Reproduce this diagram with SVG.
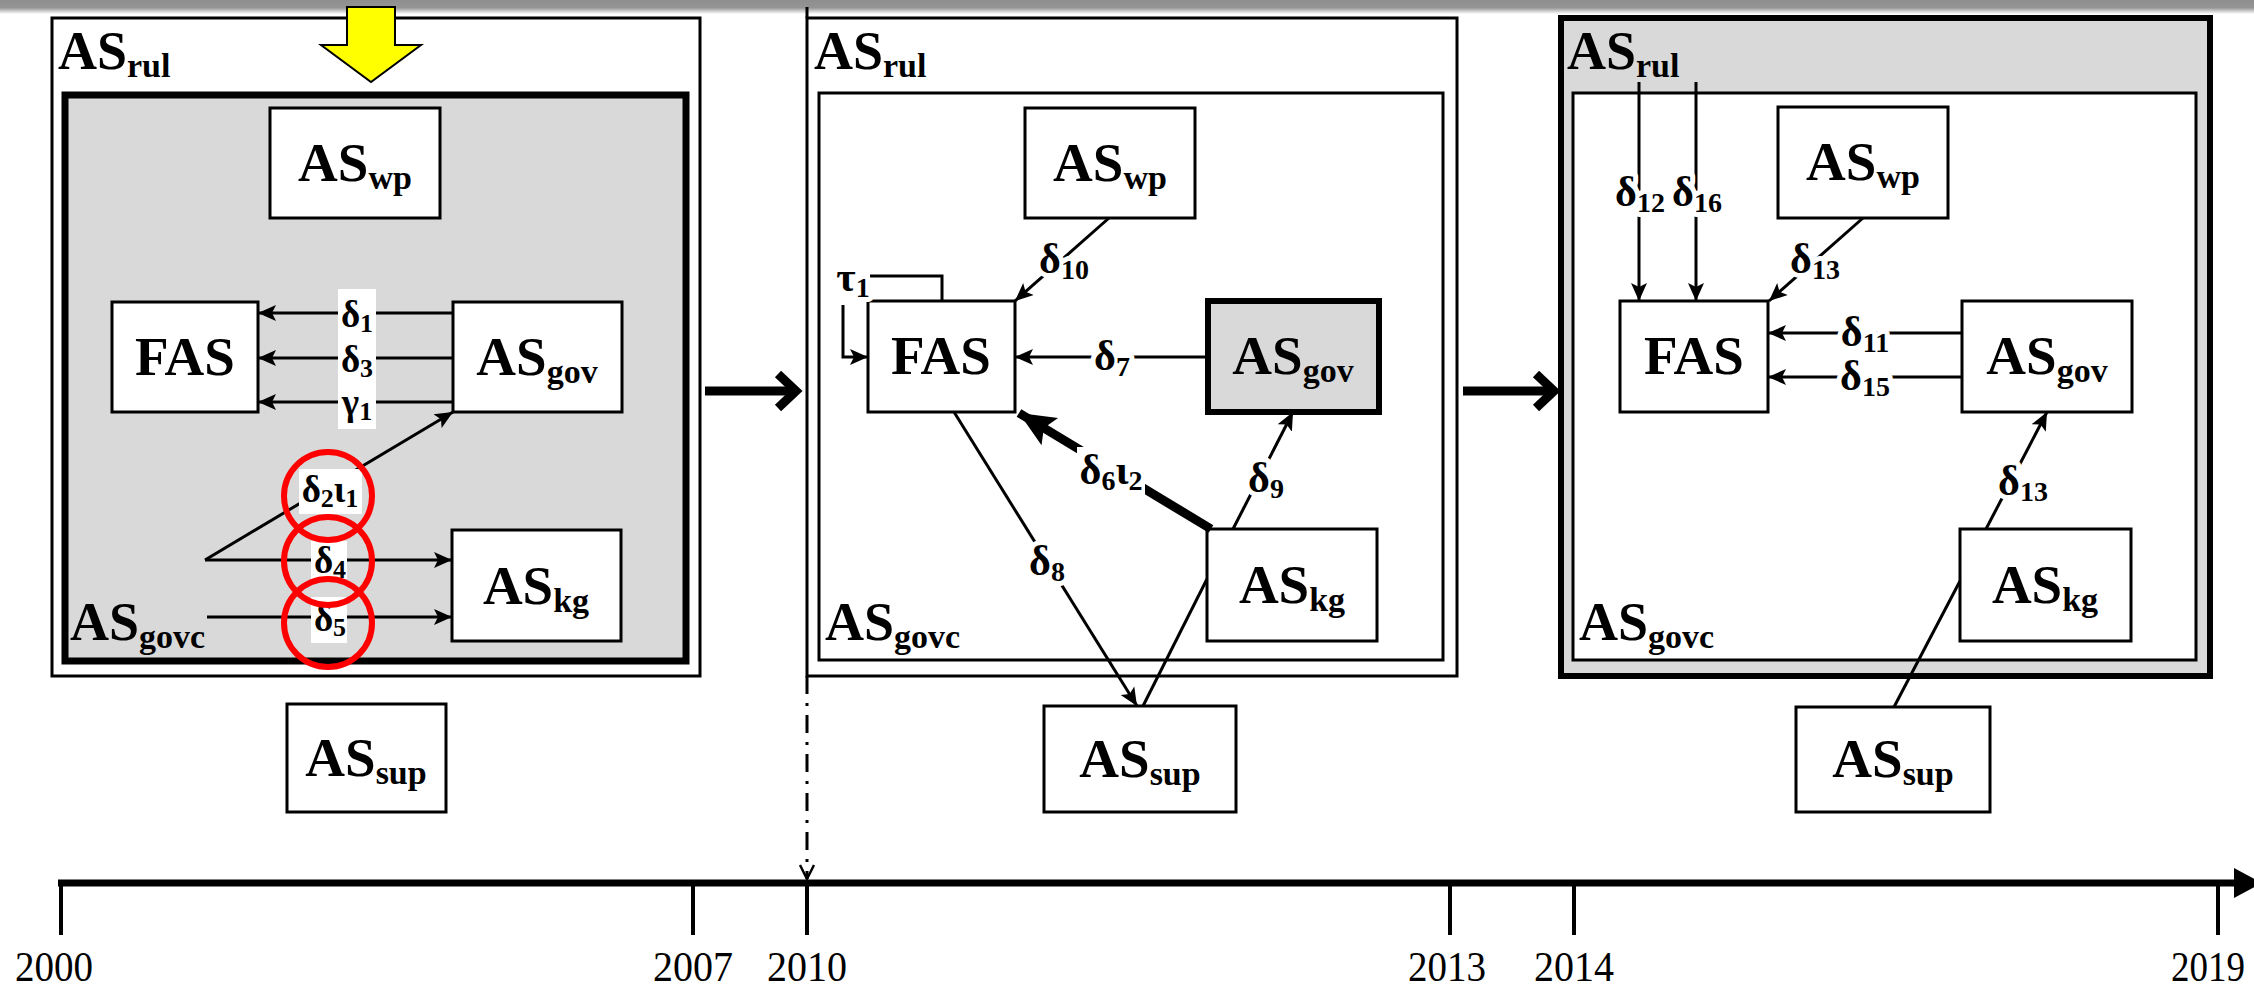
<svg xmlns="http://www.w3.org/2000/svg" width="2254" height="986" viewBox="0 0 2254 986">
<defs>
<linearGradient id="topfade" x1="0" y1="0" x2="0" y2="1">
<stop offset="0" stop-color="#8e8e8e"/><stop offset="0.55" stop-color="#949494"/><stop offset="1" stop-color="#ffffff"/>
</linearGradient>
<marker id="ah" markerUnits="userSpaceOnUse" markerWidth="20" markerHeight="18" refX="18" refY="9" orient="auto"><path d="M0,1 L18,9 L0,17 L4,9 z" fill="#000"/></marker>
<marker id="ahb" markerUnits="userSpaceOnUse" markerWidth="40" markerHeight="36" refX="36" refY="18" orient="auto"><path d="M0,2 L36,18 L0,34 L7,18 z" fill="#000"/></marker>
<style>
.bg{fill:#fff}
.box{fill:#fff;stroke:#000;stroke-width:3}
.outer{fill:#fff;stroke:#000;stroke-width:3}
.grayk{fill:#d9d9d9;stroke:#000;stroke-width:7}
.n{font-family:"Liberation Serif","Times New Roman",serif;font-weight:bold;font-size:55px;text-anchor:middle;fill:#000}
.nl{font-family:"Liberation Serif","Times New Roman",serif;font-weight:bold;font-size:54px;fill:#000}
.s{font-size:34px}
.ln{stroke:#000;stroke-width:3;fill:none}
.arr{marker-end:url(#ah)}
.d{font-family:"Liberation Serif","Times New Roman",serif;font-weight:bold;font-size:42px;text-anchor:middle;fill:#000}
.halo .d{fill:#fff;stroke:#fff;stroke-width:10;stroke-linejoin:round}
.d1{font-family:"Liberation Serif","Times New Roman",serif;font-weight:bold;font-size:37px;text-anchor:middle;fill:#000}
.ds{font-size:28px}
.ds1{font-size:26px}
.big{stroke:#000;stroke-width:9;fill:none}
.ring{fill:none;stroke:#ff0000;stroke-width:6}
.yr{font-family:"Liberation Serif","Times New Roman",serif;font-size:43px;text-anchor:middle;fill:#000}
</style>
</defs>
<rect x="0" y="0" width="2254" height="986" fill="#fff"/>
<rect x="0" y="0" width="2254" height="14" fill="url(#topfade)"/>

<!-- Panel 1 -->
<g id="panel1">
<rect class="outer" x="52" y="18" width="648" height="658"/>
<text class="nl" x="58" y="69">AS<tspan class="s" dy="8">rul</tspan></text>
<rect class="grayk" x="65" y="95" width="621" height="566"/>
<text class="nl" x="70" y="640">AS<tspan class="s" dy="8">govc</tspan></text>
<polygon points="347,7 395,7 395,45 421,45 371,82 321,45 347,45" fill="#ffff00" stroke="#000" stroke-width="2"/>
</g>
<g id="p1-ASwp"><rect class="box" x="270" y="108" width="170" height="110"/><text class="n" x="355" y="181">AS<tspan class="s" dy="8">wp</tspan></text></g>
<g id="p1-FAS"><rect class="box" x="112" y="302" width="146" height="110"/><text class="n" x="185" y="375">FAS</text></g>
<g id="p1-ASgov"><rect class="box" x="453" y="302" width="169" height="110"/><text class="n" x="537" y="375">AS<tspan class="s" dy="8">gov</tspan></text></g>
<g id="p1-ASkg"><rect class="box" x="452" y="530" width="169" height="111"/><text class="n" x="536" y="604">AS<tspan class="s" dy="8">kg</tspan></text></g>
<g id="p1-ASsup"><rect class="box" x="287" y="704" width="159" height="108"/><text class="n" x="366" y="776">AS<tspan class="s" dy="8">sup</tspan></text></g>

<!-- Panel 2 -->
<g id="panel2">
<line x1="807" y1="7" x2="807" y2="18" stroke="#000" stroke-width="3"/>
<rect class="outer" x="807" y="18" width="650" height="658"/>
<text class="nl" x="814" y="69">AS<tspan class="s" dy="8">rul</tspan></text>
<rect class="box" x="819" y="93" width="624" height="567"/>
<text class="nl" x="825" y="640">AS<tspan class="s" dy="8">govc</tspan></text>
</g>
<g id="p2-ASwp"><rect class="box" x="1025" y="108" width="170" height="110"/><text class="n" x="1110" y="181">AS<tspan class="s" dy="8">wp</tspan></text></g>
<g id="p2-FAS"><rect class="box" x="868" y="301" width="147" height="111"/><text class="n" x="941" y="374">FAS</text></g>
<g id="p2-ASgov"><rect x="1208" y="301" width="171" height="111" fill="#d9d9d9" stroke="#000" stroke-width="6"/><text class="n" x="1293" y="374">AS<tspan class="s" dy="8">gov</tspan></text></g>
<g id="p2-ASkg"><rect class="box" x="1207" y="529" width="170" height="112"/><text class="n" x="1292" y="603">AS<tspan class="s" dy="8">kg</tspan></text></g>
<g id="p2-ASsup"><rect class="box" x="1044" y="706" width="192" height="106"/><text class="n" x="1140" y="777">AS<tspan class="s" dy="8">sup</tspan></text></g>

<!-- Panel 3 -->
<g id="panel3">
<rect x="1561" y="18" width="649" height="658" fill="#d9d9d9" stroke="#000" stroke-width="6"/>
<text class="nl" x="1567" y="69">AS<tspan class="s" dy="8">rul</tspan></text>
<rect class="box" x="1573" y="93" width="623" height="567"/>
<text class="nl" x="1579" y="640">AS<tspan class="s" dy="8">govc</tspan></text>
</g>
<g id="p3-ASwp"><rect class="box" x="1778" y="107" width="170" height="111"/><text class="n" x="1863" y="180">AS<tspan class="s" dy="8">wp</tspan></text></g>
<g id="p3-FAS"><rect class="box" x="1620" y="301" width="148" height="111"/><text class="n" x="1694" y="374">FAS</text></g>
<g id="p3-ASgov"><rect class="box" x="1962" y="301" width="170" height="111"/><text class="n" x="2047" y="374">AS<tspan class="s" dy="8">gov</tspan></text></g>
<g id="p3-ASkg"><rect class="box" x="1960" y="529" width="171" height="112"/><text class="n" x="2045" y="603">AS<tspan class="s" dy="8">kg</tspan></text></g>
<g id="p3-ASsup"><rect class="box" x="1796" y="707" width="194" height="105"/><text class="n" x="1893" y="777">AS<tspan class="s" dy="8">sup</tspan></text></g>

<!-- Connectors -->
<g id="connectors">
<!-- panel 1 -->
<line class="ln arr" x1="453" y1="313" x2="258" y2="313"/>
<line class="ln arr" x1="453" y1="358" x2="258" y2="358"/>
<line class="ln arr" x1="453" y1="402" x2="258" y2="402"/>
<line class="ln arr" x1="205" y1="560" x2="453" y2="412"/>
<line class="ln arr" x1="205" y1="560" x2="452" y2="560"/>
<line class="ln arr" x1="207" y1="617" x2="452" y2="617"/>
<rect class="bg" x="338" y="289" width="38" height="140"/>
<rect class="bg" x="299" y="469" width="63" height="45"/>
<rect class="bg" x="311" y="541" width="36" height="38"/>
<rect class="bg" x="311" y="597" width="36" height="46"/>
<text class="d1" x="357" y="327">δ<tspan class="ds1" dy="5">1</tspan></text>
<text class="d1" x="357" y="372">δ<tspan class="ds1" dy="5">3</tspan></text>
<text class="d1" x="357" y="415">γ<tspan class="ds1" dy="5">1</tspan></text>
<text class="d1" x="330" y="502">δ<tspan class="ds1" dy="5">2</tspan><tspan dy="-5">ι</tspan><tspan class="ds1" dy="5">1</tspan></text>
<text class="d1" x="330" y="573">δ<tspan class="ds1" dy="5">4</tspan></text>
<text class="d1" x="330" y="631">δ<tspan class="ds1" dy="5">5</tspan></text>
<circle class="ring" cx="328" cy="496" r="44"/>
<circle class="ring" cx="328" cy="561" r="44"/>
<circle class="ring" cx="328" cy="623" r="44"/>
<!-- big transition arrows -->
<line class="big" x1="705" y1="391" x2="795" y2="391"/>
<polyline class="big" points="778,374 796,391 778,408"/>
<line class="big" x1="1463" y1="391" x2="1553" y2="391"/>
<polyline class="big" points="1536,374 1554,391 1536,408"/>
<!-- panel 2 -->
<polyline class="ln" points="870,276 942,276 942,301"/>
<polyline class="ln arr" points="843,305 843,357 868,357"/>
<line class="ln arr" x1="1109" y1="218" x2="1015" y2="301"/>
<line class="ln arr" x1="1208" y1="357" x2="1015" y2="357"/>
<line x1="1211" y1="529" x2="1019" y2="413" stroke="#000" stroke-width="9" marker-end="url(#ahb)"/>
<line class="ln arr" x1="1233" y1="529" x2="1293" y2="412"/>
<line class="ln arr" x1="954" y1="412" x2="1137" y2="706"/>
<line class="ln" x1="1207" y1="579" x2="1143" y2="706"/>
<rect class="bg" x="1077" y="447" width="68" height="48"/>
<!-- panel 3 -->
<line class="ln arr" x1="1639" y1="82" x2="1639" y2="301"/>
<line class="ln arr" x1="1696" y1="82" x2="1696" y2="301"/>
<line class="ln arr" x1="1863" y1="218" x2="1769" y2="301"/>
<line class="ln arr" x1="1962" y1="333" x2="1768" y2="333"/>
<line class="ln arr" x1="1962" y1="377" x2="1768" y2="377"/>
<line class="ln arr" x1="1986" y1="529" x2="2047" y2="412"/>
<line class="ln" x1="1894" y1="707" x2="1960" y2="581"/>
<!-- label halos (clear the lines under the labels) -->
<g class="halo">
<text class="d" x="853" y="291">τ<tspan class="ds" dy="6">1</tspan></text>
<text class="d" x="1064" y="273">δ<tspan class="ds" dy="6">10</tspan></text>
<text class="d" x="1112" y="370">δ<tspan class="ds" dy="6">7</tspan></text>
<text class="d" x="1266" y="492">δ<tspan class="ds" dy="6">9</tspan></text>
<text class="d" x="1047" y="575">δ<tspan class="ds" dy="6">8</tspan></text>
<text class="d" x="1640" y="206">δ<tspan class="ds" dy="6">12</tspan></text>
<text class="d" x="1697" y="206">δ<tspan class="ds" dy="6">16</tspan></text>
<text class="d" x="1815" y="273">δ<tspan class="ds" dy="6">13</tspan></text>
<text class="d" x="1865" y="346">δ<tspan class="ds" dy="6">11</tspan></text>
<text class="d" x="1865" y="390">δ<tspan class="ds" dy="6">15</tspan></text>
<text class="d" x="2023" y="495">δ<tspan class="ds" dy="6">13</tspan></text>
</g>
<text class="d" x="853" y="291">τ<tspan class="ds" dy="6">1</tspan></text>
<text class="d" x="1064" y="273">δ<tspan class="ds" dy="6">10</tspan></text>
<text class="d" x="1112" y="370">δ<tspan class="ds" dy="6">7</tspan></text>
<text class="d" x="1111" y="484">δ<tspan class="ds" dy="6">6</tspan><tspan dy="-6">ι</tspan><tspan class="ds" dy="6">2</tspan></text>
<text class="d" x="1266" y="492">δ<tspan class="ds" dy="6">9</tspan></text>
<text class="d" x="1047" y="575">δ<tspan class="ds" dy="6">8</tspan></text>
<text class="d" x="1640" y="206">δ<tspan class="ds" dy="6">12</tspan></text>
<text class="d" x="1697" y="206">δ<tspan class="ds" dy="6">16</tspan></text>
<text class="d" x="1815" y="273">δ<tspan class="ds" dy="6">13</tspan></text>
<text class="d" x="1865" y="346">δ<tspan class="ds" dy="6">11</tspan></text>
<text class="d" x="1865" y="390">δ<tspan class="ds" dy="6">15</tspan></text>
<text class="d" x="2023" y="495">δ<tspan class="ds" dy="6">13</tspan></text>
<!-- 2010 dash-dot marker -->
<line x1="807" y1="676" x2="807" y2="879" stroke="#000" stroke-width="3" stroke-dasharray="18 9 3 9"/>
<polyline points="800,865 807,879 814,865" fill="none" stroke="#000" stroke-width="2.5"/>
</g>

<!-- Timeline -->
<g id="timeline">
<line x1="58" y1="883" x2="2240" y2="883" stroke="#000" stroke-width="7"/>
<polygon points="2234,868 2262,883 2234,898" fill="#000"/>
<g stroke="#000" stroke-width="4">
<line x1="61" y1="880" x2="61" y2="935"/>
<line x1="693" y1="880" x2="693" y2="935"/>
<line x1="807" y1="880" x2="807" y2="935"/>
<line x1="1450" y1="880" x2="1450" y2="935"/>
<line x1="1574" y1="880" x2="1574" y2="935"/>
<line x1="2218" y1="880" x2="2218" y2="935"/>
</g>
<text class="yr" x="54" y="981" textLength="78" lengthAdjust="spacingAndGlyphs">2000</text>
<text class="yr" x="693" y="981" textLength="80" lengthAdjust="spacingAndGlyphs">2007</text>
<text class="yr" x="807" y="981" textLength="80" lengthAdjust="spacingAndGlyphs">2010</text>
<text class="yr" x="1447" y="981" textLength="78" lengthAdjust="spacingAndGlyphs">2013</text>
<text class="yr" x="1574" y="981" textLength="80" lengthAdjust="spacingAndGlyphs">2014</text>
<text class="yr" x="2208" y="981" textLength="74" lengthAdjust="spacingAndGlyphs">2019</text>
</g>
</svg>
